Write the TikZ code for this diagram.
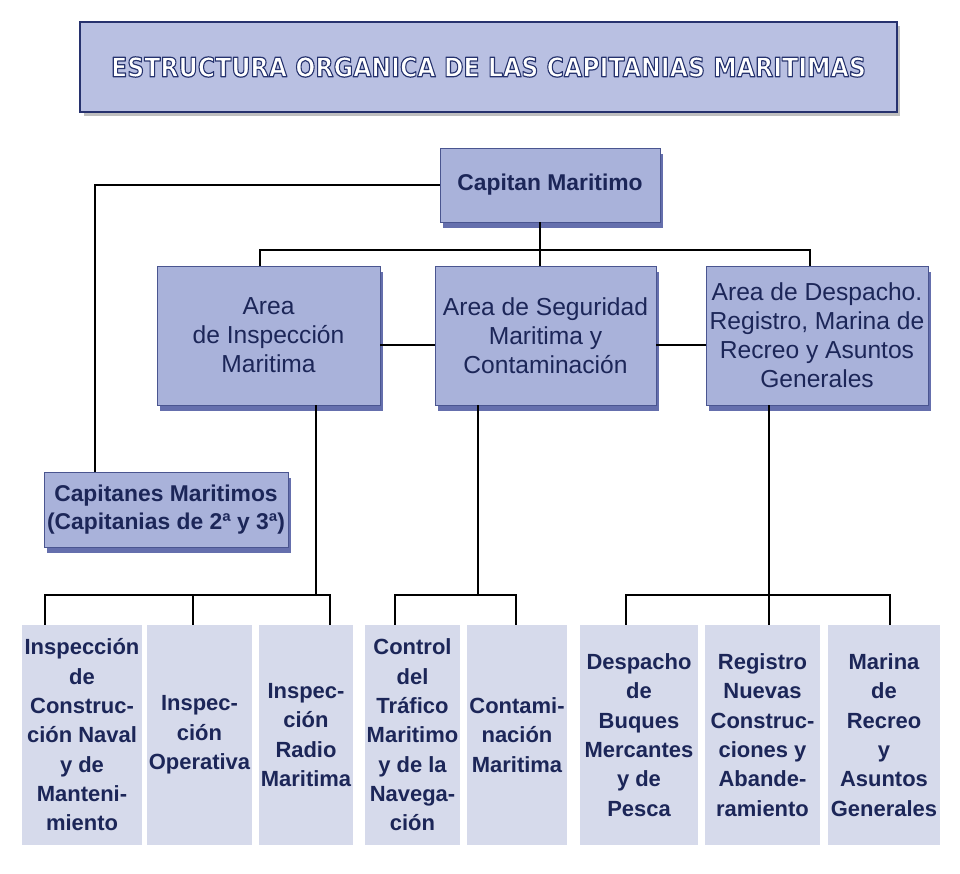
\documentclass[tikz,border=0pt]{standalone}
\usepackage{fontspec}
\setmainfont{Liberation Sans}
\newfontfamily\headfont{DejaVu Sans Bold}
\usetikzlibrary{shadows}

\definecolor{ink}{HTML}{1C2658}
\definecolor{boxfill}{HTML}{A9B2DA}
\definecolor{boxline}{HTML}{4A5590}
\definecolor{navy}{HTML}{27326E}
\definecolor{shade}{HTML}{3F4B99}
\definecolor{titlefill}{HTML}{B9C0E2}
\definecolor{leaffill}{HTML}{D6DAEB}

% white letters with a dark rim (fill then stroke)
\newcommand{\rimtext}[1]{\special{pdf:literal 2 Tr 0.45 w 1 j 0.15 0.2 0.43 RG}#1\special{pdf:literal 0 Tr}}

\tikzset{
  unit/.style={draw=boxline, fill=boxfill, text=ink, align=center, inner sep=0pt,
    drop shadow={fill=shade, opacity=0.8, shadow xshift=1.5pt, shadow yshift=-3.5pt},
    font=\fontsize{14}{16.5}\selectfont},
  chief/.style={unit, font=\fontsize{13}{16}\selectfont\bfseries},
  leaf/.style={fill=leaffill, text=ink, align=center, inner sep=0pt,
    minimum height=4.4cm, font=\fontsize{12.5}{16.7}\selectfont\bfseries},
  link/.style={line width=1pt, black}
}

\begin{document}
\begin{tikzpicture}[x=0.02cm, y=-0.02cm]
\useasboundingbox (0,0) rectangle (960,873);

% title
\node[draw=navy, line width=1.5pt, fill=titlefill, minimum width=16.34cm, minimum height=1.8cm,
  drop shadow={fill=gray, opacity=0.5, shadow xshift=2pt, shadow yshift=-2pt},
  text=white, font=\headfont]
  (title) at (488.5,67)
  {\resizebox{15.1cm}{0.4cm}{\rimtext{ESTRUCTURA ORGANICA DE LAS CAPITANIAS MARITIMAS}}};

% upper levels
\node[chief, minimum width=4.4cm, minimum height=1.48cm] (cap) at (550,185) {Capitan Maritimo};
\node[unit, minimum width=4.46cm, minimum height=2.78cm] (ins) at (268.5,335.5)
  {Area\\de Inspección\\Maritima};
\node[unit, minimum width=4.42cm, minimum height=2.78cm] (seg) at (545.5,335.5)
  {Area de Seguridad\\Maritima y\\Contaminación};
\node[unit, minimum width=4.44cm, minimum height=2.78cm] (desp) at (817,335.5)
  {Area de Despacho.\\Registro, Marina de\\Recreo y Asuntos\\Generales};
\node[chief, minimum width=4.88cm, minimum height=1.5cm] (capn) at (166,509.5)
  {Capitanes Maritimos\\(Capitanias de 2ª y 3ª)};

% bottom level
\node[leaf, minimum width=2.4cm] (l1) at (82,735)
  {Inspección\\de\\Construc-\\ción Naval\\y de\\Manteni-\\miento};
\node[leaf, minimum width=2.1cm] (l2) at (199.5,735) {Inspec-\\ción\\Operativa};
\node[leaf, minimum width=1.88cm] (l3) at (306,735) {Inspec-\\ción\\Radio\\Maritima};
\node[leaf, minimum width=1.9cm] (l4) at (412.5,735)
  {Control\\del\\Tráfico\\Maritimo\\y de la\\Navega-\\ción};
\node[leaf, minimum width=2.0cm] (l5) at (517,735) {Contami-\\nación\\Maritima};
\node[leaf, minimum width=2.36cm] (l6) at (639,735)
  {Despacho\\de\\Buques\\Mercantes\\y de\\Pesca};
\node[leaf, minimum width=2.3cm] (l7) at (762.5,735)
  {Registro\\Nuevas\\Construc-\\ciones y\\Abande-\\ramiento};
\node[leaf, minimum width=2.24cm] (l8) at (884,735)
  {Marina\\de\\Recreo\\y\\Asuntos\\Generales};

% connectors
\coordinate (top) at (540,250);
\coordinate (b1) at (316,595);
\coordinate (b2) at (478,595);
\coordinate (b3) at (769,595);

\draw[link] (cap.west) -| (capn.north -| 95,0);
\draw[link] (cap.south -| top) -- (top);
\draw[link] (ins.north -| 260,0) |- (top) -| (desp.north -| 810,0);
\draw[link] (top) -- (seg.north -| top);
\draw[link] (ins.east |- 0,345) -- (seg.west |- 0,345);
\draw[link] (seg.east |- 0,345) -- (desp.west |- 0,345);

\draw[link] (ins.south -| b1) -- (b1);
\draw[link] (l1.north -| 45,0) |- (b1) -| (l3.north -| 330,0);
\draw[link] (l2.north -| 193,0) -- (193,595);

\draw[link] (seg.south -| b2) -- (b2);
\draw[link] (l4.north -| 395,0) |- (b2) -| (l5.north -| 516,0);

\draw[link] (desp.south -| b3) -- (b3);
\draw[link] (l6.north -| 626,0) |- (b3) -| (l8.north -| 890,0);
\draw[link] (b3) -- (l7.north -| b3);

\end{tikzpicture}
\end{document}
